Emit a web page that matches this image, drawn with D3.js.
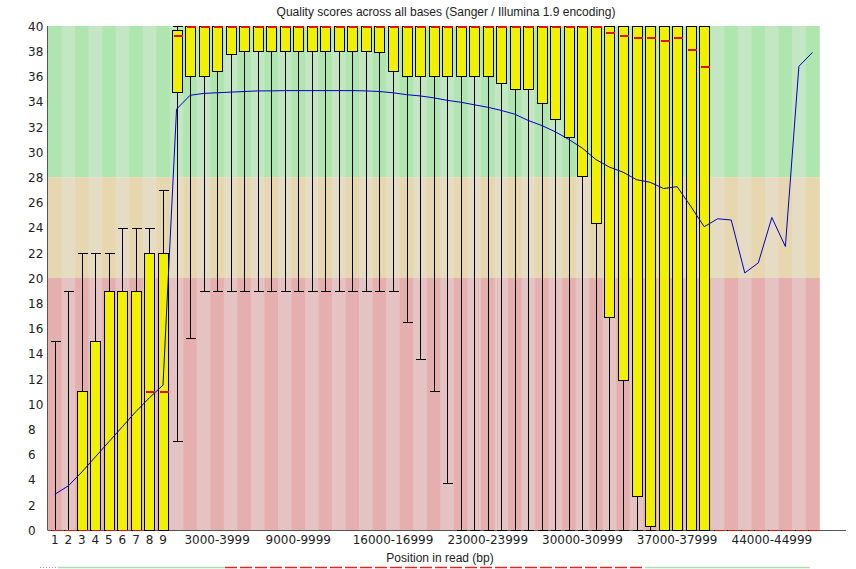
<!DOCTYPE html>
<html>
<head>
<meta charset="utf-8">
<script src="https://cdn.jsdelivr.net/npm/d3@7"></script>
<style>
  html, body { margin: 0; padding: 0; background: #fff; }
  svg { display: block; }
</style>
</head>
<body>
<svg id="chart" width="856" height="569"></svg>
<script>
// Base groups along the read (first nine bases individually, then 1 kb bins)
const groups = [
  "1","2","3","4","5","6","7","8","9",
  "10-999","1000-1999","2000-2999","3000-3999","4000-4999","5000-5999",
  "6000-6999","7000-7999","8000-8999","9000-9999","10000-10999","11000-11999",
  "12000-12999","13000-13999","14000-14999","15000-15999","16000-16999","17000-17999",
  "18000-18999","19000-19999","20000-20999","21000-21999","22000-22999","23000-23999",
  "24000-24999","25000-25999","26000-26999","27000-27999","28000-28999","29000-29999",
  "30000-30999","31000-31999","32000-32999","33000-33999","34000-34999","35000-35999",
  "36000-36999","37000-37999","38000-38999","39000-39999","40000-40999","41000-41999",
  "42000-42999","43000-43999","44000-44999","45000-45999","46000-46999","47000-47999"
];

// Labels printed under the x axis
const shownLabels = ["1","2","3","4","5","6","7","8","9",
  "3000-3999","9000-9999","16000-16999","23000-23999","30000-30999","37000-37999","44000-44999"];

// Per-group statistics (Phred quality)
const meanQ = [
  2.83, 3.5, 4.6, 5.8, 7.0, 8.2, 9.4, 10.5, 11.5,
  33.4, 34.5, 34.65, 34.7, 34.75, 34.8, 34.85, 34.85, 34.87, 34.87, 34.87, 34.87,
  34.87, 34.87, 34.85, 34.8, 34.7, 34.55, 34.45, 34.3, 34.1, 33.95, 33.75, 33.55,
  33.3, 33.0, 32.5, 32.1, 31.6, 31.0, 30.3, 29.4, 28.8, 28.4, 27.8, 27.6,
  27.1, 27.25, 25.7, 24.07, 24.7, 24.6, 20.4, 21.2, 24.8, 22.5, 36.8, 37.9
];
const medianQ = [
  0, 0, 0, 0, 0, 0, 0, 11, 11,
  39.3, 40, 40, 40, 40, 40, 40, 40, 40, 40, 40, 40,
  40, 40, 40, 40, 40, 40, 40, 40, 40, 40, 40, 40,
  40, 40, 40, 40, 40, 40, 40, 40, 39.5, 39.3, 39.1, 39.1,
  38.9, 39.1, 38.15, 36.8, 0, 0, 0, 0, 0, 0, 0, 0
];
const lowerQuartile = [
  0, 0, 0, 0, 0, 0, 0, 0, 0,
  34.8, 36, 36, 36.4, 37.8, 38, 38, 38, 38, 38, 38, 38,
  38, 38, 38, 37.9, 36.4, 36, 36, 36, 36, 36, 36, 36,
  35.5, 35.0, 35.0, 33.9, 32.6, 31.2, 28.1, 24.4, 16.9, 11.9, 2.7, 0.3,
  0, 0, 0, 0, 0, 0, 0, 0, 0, 0, 0, 0
];
const upperQuartile = [
  0, 0, 11, 15, 19, 19, 19, 22, 22,
  39.7, 40, 40, 40, 40, 40, 40, 40, 40, 40, 40, 40,
  40, 40, 40, 40, 40, 40, 40, 40, 40, 40, 40, 40,
  40, 40, 40, 40, 40, 40, 40, 40, 40, 40, 40, 40,
  40, 40, 40, 40, 0, 0, 0, 0, 0, 0, 0, 0
];
const percentile10 = [
  0, 0, 0, 0, 0, 0, 0, 0, 0,
  7.1, 15.2, 19, 19, 19, 19, 19, 19, 19, 19, 19, 19,
  19, 19, 19, 19, 19, 16.5, 13.6, 11.0, 3.7, 0, 0, 0,
  0, 0, 0, 0, 0, 0, 0, 0, 0, 0, 0, 0,
  0, 0, 0, 0, 0, 0, 0, 0, 0, 0, 0, 0
];
const percentile90 = [
  15, 19, 22, 22, 22, 24, 24, 24, 27,
  40, 40, 40, 40, 40, 40, 40, 40, 40, 40, 40, 40,
  40, 40, 40, 40, 40, 40, 40, 40, 40, 40, 40, 40,
  40, 40, 40, 40, 40, 40, 40, 40, 40, 40, 40, 40,
  40, 40, 40, 40, 0, 0, 0, 0, 0, 0, 0, 0
];

// Quality bands: [from, to, light colour, dark colour]
const bands = [
  [28, 40, "rgb(195,230,195)", "rgb(175,230,175)"],
  [20, 28, "rgb(230,220,195)", "rgb(230,215,175)"],
  [0, 20, "rgb(230,195,195)", "rgb(230,175,175)"]
];

const yTicks = d3.range(0, 41, 2);

(function draw() {
  const svg = d3.select("#chart");
  const plotLeft = 48, plotRight = 819.2, plotTop = 26, plotBottom = 530;

  const x = d3.scaleBand().domain(groups).range([plotLeft, plotRight]).padding(0);
  const y = d3.scaleLinear().domain([0, 40]).range([plotBottom, plotTop]);
  const cx = g => x(g) + x.bandwidth() / 2;

  // Striped background bands
  const bg = svg.append("g");
  groups.forEach((g, i) => {
    bands.forEach(b => {
      bg.append("rect")
        .attr("x", x(g)).attr("width", x.bandwidth() + 0.6)
        .attr("y", y(b[1])).attr("height", y(b[0]) - y(b[1]))
        .attr("fill", i % 2 === 0 ? b[3] : b[2]);
    });
  });

  // Axes
  const yAxis = svg.append("g")
    .attr("transform", `translate(${plotLeft},0)`)
    .call(d3.axisLeft(y).tickValues(yTicks).tickSize(0).tickPadding(0));
  yAxis.select(".domain").remove();
  yAxis.selectAll("text")
    .attr("text-anchor", "start").attr("x", -20).attr("dy", "0.35em")
    .attr("font-family", "DejaVu Sans").attr("font-size", 12).attr("fill", "#222");

  const xAxis = svg.append("g")
    .attr("transform", `translate(0,${plotBottom})`)
    .call(d3.axisBottom(x).tickValues(shownLabels).tickSize(0).tickPadding(0));
  xAxis.select(".domain").remove();
  xAxis.selectAll("text")
    .attr("y", 14).attr("dy", 0)
    .attr("font-family", "DejaVu Sans").attr("font-size", 12).attr("fill", "#222");

  svg.append("line")
    .attr("x1", plotLeft - 0.5).attr("x2", plotLeft - 0.5).attr("y1", plotTop).attr("y2", plotBottom)
    .attr("stroke", "#555").attr("stroke-width", 1);
  svg.append("line")
    .attr("x1", plotLeft - 0.5).attr("x2", 846).attr("y1", plotBottom + 0.5).attr("y2", plotBottom + 0.5)
    .attr("stroke", "#555").attr("stroke-width", 1);

  // Box plots
  const bw = 10;
  const boxes = svg.append("g").attr("shape-rendering", "crispEdges");
  groups.forEach((g, i) => {
    const c = Math.round(cx(g)) + 0.5;
    const x0 = Math.round(cx(g) - bw / 2) + 0.5;
    const gg = boxes.append("g");
    // whiskers
    gg.append("line")
      .attr("x1", c).attr("x2", c)
      .attr("y1", y(percentile10[i])).attr("y2", y(percentile90[i]))
      .attr("stroke", "#000");
    [percentile10[i], percentile90[i]].forEach(v => {
      gg.append("line")
        .attr("x1", x0).attr("x2", x0 + bw)
        .attr("y1", Math.round(y(v)) + 0.5).attr("y2", Math.round(y(v)) + 0.5)
        .attr("stroke", "#000");
    });
    // interquartile box
    gg.append("rect")
      .attr("x", x0).attr("width", bw)
      .attr("y", Math.round(y(upperQuartile[i])) + 0.5)
      .attr("height", Math.max(0, Math.round(y(lowerQuartile[i])) - Math.round(y(upperQuartile[i]))))
      .attr("fill", "rgb(240,240,0)").attr("stroke", "#000");
    // median
    const my = medianQ[i] === 0 ? plotBottom + 0.5 : Math.round(y(medianQ[i])) + 1;
    gg.append("line")
      .attr("x1", x0 + 1).attr("x2", x0 + bw)
      .attr("y1", my).attr("y2", my)
      .attr("stroke", "rgb(220,20,0)").attr("stroke-width", medianQ[i] === 0 ? 1 : 2);
  });

  // Mean quality line
  svg.append("path")
    .datum(groups)
    .attr("d", d3.line().x(g => cx(g)).y((g, i) => y(meanQ[i])))
    .attr("fill", "none").attr("stroke", "rgb(0,0,200)").attr("stroke-width", 1);

  // Titles
  svg.append("text")
    .attr("x", 446).attr("y", 16).attr("text-anchor", "middle")
    .attr("font-family", "Liberation Sans").attr("font-size", 12).attr("fill", "#222")
    .text("Quality scores across all bases (Sanger / Illumina 1.9 encoding)");
  svg.append("text")
    .attr("x", 440).attr("y", 562).attr("text-anchor", "middle")
    .attr("font-family", "Liberation Sans").attr("font-size", 12).attr("fill", "#222")
    .text("Position in read (bp)");

  // Trim line along the bottom edge
  const strip = svg.append("g");
  strip.append("line").attr("x1", 40).attr("x2", 58).attr("y1", 567.5).attr("y2", 567.5)
    .attr("stroke", "#999").attr("stroke-dasharray", "1,2");
  strip.append("line").attr("x1", 58).attr("x2", 225).attr("y1", 567.5).attr("y2", 567.5)
    .attr("stroke", "rgb(170,225,170)").attr("stroke-width", 1.5);
  strip.append("line").attr("x1", 645).attr("x2", 810).attr("y1", 567.5).attr("y2", 567.5)
    .attr("stroke", "rgb(170,225,170)").attr("stroke-width", 1.5);
  strip.append("line").attr("x1", 225).attr("x2", 645).attr("y1", 567.5).attr("y2", 567.5)
    .attr("stroke", "rgb(225,40,30)").attr("stroke-width", 1.5).attr("stroke-dasharray", "12,3");
})();
</script>
</body>
</html>
